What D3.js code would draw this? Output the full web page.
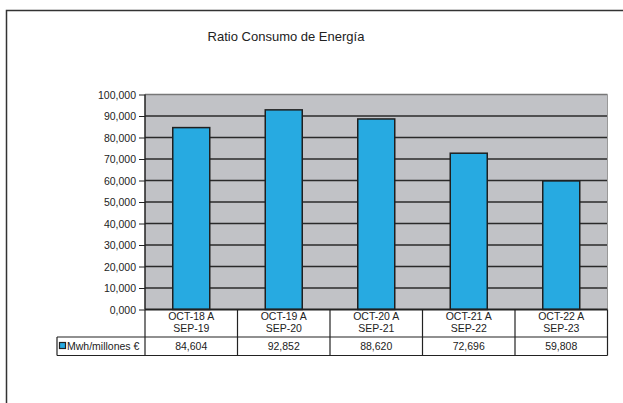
<!DOCTYPE html>
<html><head><meta charset="utf-8">
<script src="https://cdn.jsdelivr.net/npm/d3@7"></script>
<style>
html,body{margin:0;padding:0;background:#fff;}
svg{display:block;font-family:"Liberation Sans",Arial,Helvetica,sans-serif;}
</style></head>
<body>
<svg id="c" width="623" height="403"></svg>
<script>
const title = "Ratio Consumo de Energía";
const categories = [["OCT-18 A","SEP-19"],["OCT-19 A","SEP-20"],["OCT-20 A","SEP-21"],["OCT-21 A","SEP-22"],["OCT-22 A","SEP-23"]];
const seriesName = "Mwh/millones €";
const values = [84604, 92852, 88620, 72696, 59808];
const valueLabels = ["84,604","92,852","88,620","72,696","59,808"];
const yTicks = [0,10000,20000,30000,40000,50000,60000,70000,80000,90000,100000];
const yTickLabels = ["0,000","10,000","20,000","30,000","40,000","50,000","60,000","70,000","80,000","90,000","100,000"];

const svg = d3.select("#c");
const L = 145, R = 607.5, T = 94.5, B = 309.5;
const row1B = 337, row2B = 355.5, legL = 57;

// outer frame (top & left visible)
svg.append("path").attr("d", `M6.5,403 V10.5 H623`).attr("fill","none").attr("stroke","#333").attr("stroke-width",1.5);

svg.append("text").attr("x",286).attr("y",41).attr("text-anchor","middle")
  .attr("font-size",13).attr("fill","#222").text(title);

const x = d3.scaleBand().domain(d3.range(categories.length)).range([L,R]).paddingInner(0).paddingOuter(0);
const y = d3.scaleLinear().domain([0,100000]).range([B,T]);

// plot bg
svg.append("rect").attr("x",L).attr("y",T).attr("width",R-L).attr("height",B-T).attr("fill","#c1c2c6");
// gridlines
svg.append("g").selectAll("line").data(yTicks.slice(1,-1)).join("line")
  .attr("x1",L).attr("x2",R).attr("y1",d=>y(d)).attr("y2",d=>y(d))
  .attr("stroke","#2a2a2a").attr("stroke-width",1.3);
// top border gray
svg.append("line").attr("x1",L).attr("x2",R).attr("y1",T).attr("y2",T).attr("stroke","#777").attr("stroke-width",1.5);
svg.append("line").attr("x1",R).attr("x2",R).attr("y1",T).attr("y2",B).attr("stroke","#999").attr("stroke-width",1);

// bars
const bw = 37;
svg.append("g").selectAll("rect").data(values).join("rect")
  .attr("x",(d,i)=>x(i)+x.bandwidth()/2-bw/2).attr("width",bw)
  .attr("y",d=>y(d)).attr("height",d=>B-y(d))
  .attr("fill","#27aae1").attr("stroke","#1f1f1f").attr("stroke-width",1.5);

// y axis
const yAxis = d3.axisLeft(y).tickValues(yTicks).tickFormat((d,i)=>yTickLabels[i]).tickSize(6).tickPadding(3);
const ga = svg.append("g").attr("transform",`translate(${L},0)`).call(yAxis);
ga.select(".domain").attr("stroke","#222").attr("stroke-width",1.5).attr("d",`M0,${T}V${B}`);
ga.selectAll(".tick line").attr("stroke","#222");
ga.selectAll(".tick text").attr("font-size",10.5).attr("fill","#222").attr("font-family","Liberation Sans, Arial, sans-serif").attr("dy","0.35em");

// table
const tg = svg.append("g").attr("stroke","#222").attr("stroke-width",1.2).attr("fill","none");
tg.append("line").attr("x1",L).attr("x2",R).attr("y1",B).attr("y2",B).attr("stroke-width",1.8);
tg.append("line").attr("x1",legL).attr("x2",R).attr("y1",row1B).attr("y2",row1B);
tg.append("line").attr("x1",legL).attr("x2",R).attr("y1",row2B).attr("y2",row2B);
tg.append("line").attr("x1",legL).attr("x2",legL).attr("y1",row1B).attr("y2",row2B);
tg.selectAll("line.v").data(d3.range(categories.length+1)).join("line").attr("class","v")
  .attr("x1",i=> i<categories.length ? x(i) : R).attr("x2",i=> i<categories.length ? x(i) : R)
  .attr("y1",B).attr("y2",row2B);

const cg = svg.append("g").attr("font-size",10.5).attr("fill","#222").attr("text-anchor","middle");
categories.forEach((c,i)=>{
  const cx = x(i)+x.bandwidth()/2;
  cg.append("text").attr("x",cx).attr("y",320).text(c[0]);
  cg.append("text").attr("x",cx).attr("y",332).text(c[1]);
  cg.append("text").attr("x",cx).attr("y",350).text(valueLabels[i]);
});
// legend
svg.append("rect").attr("x",59.5).attr("y",342.5).attr("width",6).attr("height",6).attr("fill","#27aae1").attr("stroke","#222").attr("stroke-width",1.2);
svg.append("text").attr("x",67).attr("y",350).attr("font-size",10.5).attr("fill","#222").text(seriesName);
</script>
</body></html>
